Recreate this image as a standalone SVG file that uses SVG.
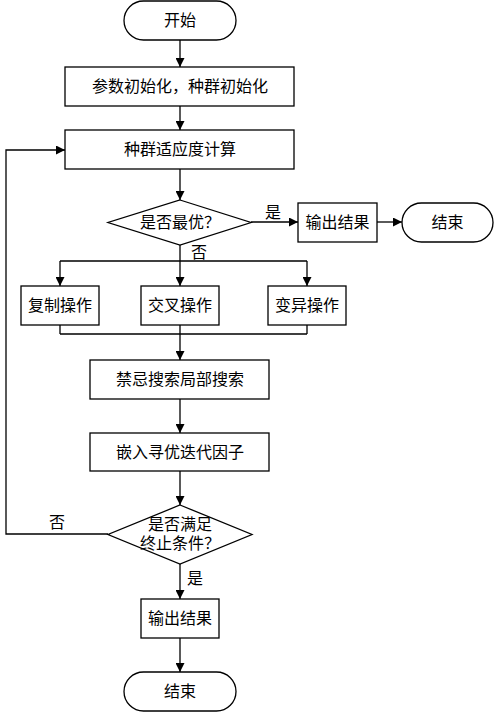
<svg xmlns="http://www.w3.org/2000/svg" width="500" height="712" viewBox="0 0 500 712">
<defs>
<marker id="ah" viewBox="0 0 10 10" refX="10" refY="5" markerWidth="9" markerHeight="9" markerUnits="userSpaceOnUse" orient="auto">
<path d="M0,0 L10,5 L0,10 Z" fill="#000"/>
</marker>
</defs>
<style>
.s{fill:#fff;stroke:#000;stroke-width:1.3}
.t{font-family:"Liberation Serif","Noto Sans CJK SC",serif;font-size:16px;fill:#000;text-anchor:middle}
.c{fill:none;stroke:#000;stroke-width:1.3}
.a{marker-end:url(#ah)}
</style>
<rect width="500" height="712" fill="#fff"/>
<g id="connectors">
<path class="c a" d="M180,40 V67"/>
<path class="c a" d="M180,106 V130"/>
<path class="c a" d="M180,169 V200"/>
<path class="c a" d="M251,222 H298"/>
<path class="c a" d="M377,222 H402"/>
<path class="c" d="M180,245 V261 M60,261 H307"/>
<path class="c a" d="M60,261 V286"/>
<path class="c a" d="M180,261 V286"/>
<path class="c a" d="M307,261 V286"/>
<path class="c" d="M60,325 V334 M180,325 V334 M307,325 V334 M60,334 H307"/>
<path class="c a" d="M180,334 V360"/>
<path class="c a" d="M180,399 V433"/>
<path class="c a" d="M180,471 V505"/>
<path class="c a" d="M108,534 H6 V150 H65"/>
<path class="c a" d="M180,564 V599"/>
<path class="c a" d="M180,638 V672"/>
<text class="t" x="273" y="218">是</text>
<text class="t" x="199" y="258">否</text>
<text class="t" x="57" y="528">否</text>
<text class="t" x="195" y="584">是</text>
</g>
<g id="start"><rect class="s" x="124" y="1" width="112" height="39" rx="19.5"/><text class="t" x="180" y="26">开始</text></g>
<g id="init"><rect class="s" x="65" y="67" width="229" height="39"/><text class="t" x="180" y="92">参数初始化，种群初始化</text></g>
<g id="fitness"><rect class="s" x="65" y="130" width="229" height="39"/><text class="t" x="180" y="155">种群适应度计算</text></g>
<g id="best"><path class="s" d="M180,200 L251,222.5 L180,245 L108,222.5 Z"/><text class="t" x="180" y="228">是否最优？</text></g>
<g id="out1"><rect class="s" x="298" y="203" width="79" height="39"/><text class="t" x="337.5" y="228">输出结果</text></g>
<g id="end1"><rect class="s" x="402" y="203" width="91" height="39" rx="19.5"/><text class="t" x="447.5" y="228">结束</text></g>
<g id="copy"><rect class="s" x="21" y="286" width="78" height="39"/><text class="t" x="60" y="311">复制操作</text></g>
<g id="cross"><rect class="s" x="141" y="286" width="78" height="39"/><text class="t" x="180" y="311">交叉操作</text></g>
<g id="mutate"><rect class="s" x="268" y="286" width="78" height="39"/><text class="t" x="307" y="311">变异操作</text></g>
<g id="tabu"><rect class="s" x="90" y="360" width="179" height="39"/><text class="t" x="180" y="385">禁忌搜索局部搜索</text></g>
<g id="embed"><rect class="s" x="90" y="433" width="179" height="38"/><text class="t" x="180" y="458">嵌入寻优迭代因子</text></g>
<g id="term"><path class="s" d="M180,505 L252,534.5 L180,564 L108,534.5 Z"/><text class="t" x="180" y="530">是否满足</text><text class="t" x="180" y="549">终止条件？</text></g>
<g id="out2"><rect class="s" x="141" y="599" width="78" height="39"/><text class="t" x="180" y="624">输出结果</text></g>
<g id="end2"><rect class="s" x="124" y="672" width="112" height="39" rx="19.5"/><text class="t" x="180" y="697">结束</text></g>
</svg>
